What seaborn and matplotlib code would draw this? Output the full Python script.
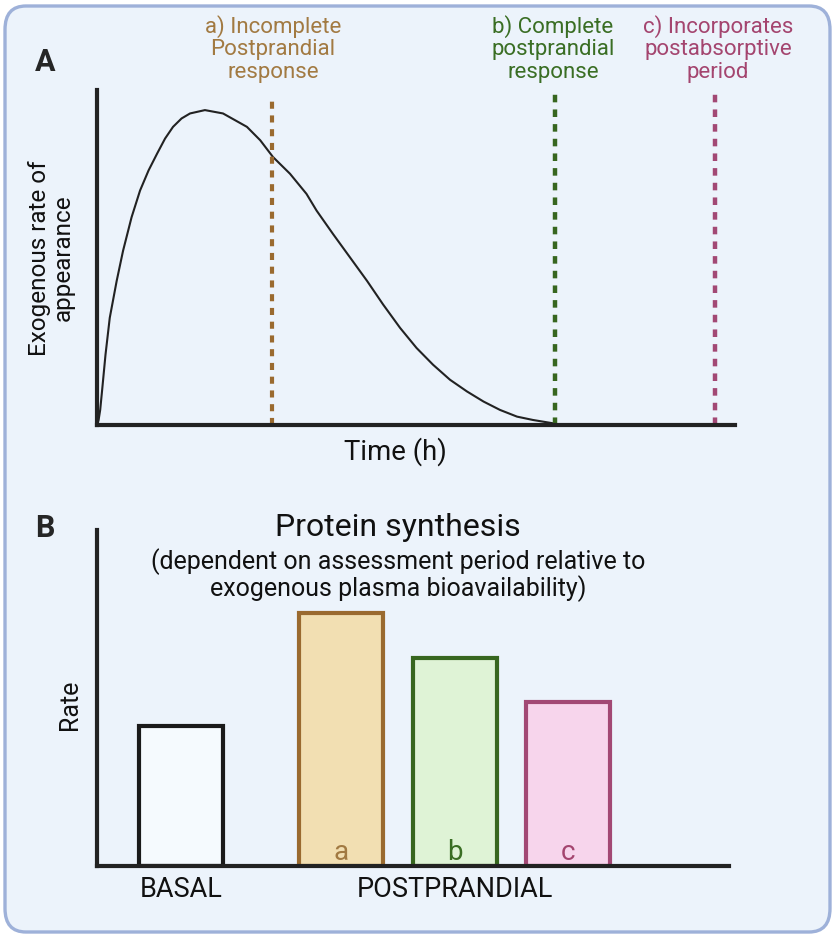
import numpy as np
import pandas as pd
import matplotlib.pyplot as plt
import seaborn as sns
from matplotlib.patches import FancyBboxPatch

# panel A: curve (time in arbitrary units, rate 0..1)
time_h = [0.0, 0.03, 0.06, 0.10, 0.16, 0.24, 0.37, 0.49, 0.65, 0.81, 0.97, 1.13, 1.28,
          1.43, 1.59, 1.75, 2.03, 2.37, 2.82, 3.07, 3.31, 3.63, 3.94, 4.13, 4.44,
          4.76, 5.08, 5.38, 5.70, 6.01, 6.32, 6.64, 6.96, 7.27, 7.58, 7.90, 8.20, 8.58]
ra_exo = [0.0, 0.015, 0.045, 0.11, 0.21, 0.32, 0.43, 0.52, 0.62, 0.70, 0.76, 0.81, 0.855,
          0.89, 0.915, 0.93, 0.94, 0.93, 0.89, 0.85, 0.80, 0.75, 0.69, 0.64, 0.57,
          0.50, 0.43, 0.36, 0.29, 0.23, 0.18, 0.135, 0.10, 0.07, 0.045, 0.025, 0.015, 0.005]

period_x = [3.29, 8.61, 11.62]
period_top = [0.973, 0.997, 0.997]
period_labels = ['a) Incomplete\nPostprandial\nresponse',
                 'b) Complete\npostprandial\nresponse',
                 'c) Incorporates\npostabsorptive\nperiod']

# panel B: bars
bar_names = ['BASAL', 'a', 'b', 'c']
bar_pos = [0.74, 2.15, 3.15, 4.15]
bar_rate = [1.40, 2.53, 2.08, 1.64]
group_ticks = [0.74, 3.15]
group_labels = ['BASAL', 'POSTPRANDIAL']

# colours
brown, green, pink = '#9A6A2F', '#37661F', '#A24874'
text_brown, text_green, text_pink = '#A27A42', '#3A6E24', '#A4456F'
fills = ['#F5FAFE', '#F2DFB2', '#DFF3D6', '#F7D5EC']
edges = ['#1A1A1A', brown, green, pink]
ink = '#222222'

sns.set_theme(style='white')
plt.rcParams['font.family'] = ['Roboto', 'DejaVu Sans']

W, H = 835, 942
fig = plt.figure(figsize=(W / 100, H / 100), dpi=100)
fig.patch.set_facecolor('white')

def fx(px):
    return px / W

def fy(py):
    return 1 - py / H

# rounded panel background
bg = FancyBboxPatch((fx(5), fy(932)), fx(825), 926 / H,
                    boxstyle='round,pad=0,rounding_size=0.025',
                    transform=fig.transFigure, facecolor='#ECF3FB',
                    edgecolor='#9EB1D9', linewidth=2.4, zorder=-1)
fig.patches.append(bg)

# ---------- panel A ----------
axA = fig.add_axes([fx(97), fy(425), fx(735 - 97), 335 / H])
axA.set_facecolor('none')
curve = pd.DataFrame({'time': time_h, 'ra': ra_exo})
sns.lineplot(data=curve, x='time', y='ra', sort=False, estimator=None,
             color=ink, linewidth=1.5, ax=axA)
axA.lines[0].set_solid_joinstyle('round')
for x, top, c, lw in zip(period_x, period_top, [brown, green, pink], [3.0, 3.2, 3.2]):
    axA.vlines(x, 0, top, colors=c, linewidth=lw, linestyles=(0, (1.7, 1.6)),
               zorder=3)
axA.set_xlim(0, 12)
axA.set_ylim(0, 1)
axA.set_xticks([])
axA.set_yticks([])
axA.set_xlabel('')
axA.set_ylabel('')
for s in ['top', 'right']:
    axA.spines[s].set_visible(False)
for s in ['left', 'bottom']:
    axA.spines[s].set_linewidth(3.0)
    axA.spines[s].set_color(ink)
    axA.spines[s].set_zorder(4)

fig.text(fx(45), fy(62), 'A', fontsize=22, fontweight='bold', ha='center', va='center')
for lab, cx, c in zip(period_labels, [273, 553, 718], [text_brown, text_green, text_pink]):
    fig.text(fx(cx), fy(49), lab, fontsize=16, color=c, ha='center', va='center',
             multialignment='center', linespacing=1.12)
fig.text(fx(51), fy(258), 'Exogenous rate of\nappearance', fontsize=17.5, rotation=90,
         ha='center', va='center', multialignment='center', linespacing=1.05, color='#111111')
fig.text(fx(395), fy(452), 'Time (h)', fontsize=19.8, ha='center', va='center', color='#111111')

# ---------- panel B ----------
axB = fig.add_axes([fx(97), fy(866), fx(729 - 97), 336 / H])
axB.set_facecolor('none')
bars = pd.DataFrame({'pos': bar_pos, 'rate': bar_rate, 'name': bar_names})
sns.barplot(data=bars, x='pos', y='rate', hue='name', hue_order=bar_names,
            palette=fills, saturation=1, native_scale=True, width=0.74, legend=False,
            errorbar=None, ax=axB)
for p, ec in zip(axB.patches, edges):
    p.set_edgecolor(ec)
    p.set_linewidth(3.0)
axB.set_xlim(0, 632 / 113.5)
axB.set_ylim(0, 3.36)
axB.set_yticks([])
axB.set_xticks(group_ticks)
axB.set_xticklabels(group_labels, fontsize=19.5, color='#111111')
axB.tick_params(axis='x', length=0, pad=7)
axB.set_xlabel('')
axB.set_ylabel('')
for s in ['top', 'right']:
    axB.spines[s].set_visible(False)
for s in ['left', 'bottom']:
    axB.spines[s].set_linewidth(3.0)
    axB.spines[s].set_color(ink)
    axB.spines[s].set_zorder(4)

for name, x, c in zip(bar_names[1:], bar_pos[1:], [text_brown, text_green, text_pink]):
    axB.text(x, 0.06, name, fontsize=20, color=c, ha='center', va='baseline')

fig.text(fx(45), fy(528), 'B', fontsize=22, fontweight='bold', ha='center', va='center')
fig.text(fx(70), fy(705), 'Rate', fontsize=18, rotation=90, ha='center', va='center',
         color='#111111')
fig.text(fx(398), fy(527), 'Protein synthesis', fontsize=23, ha='center', va='center',
         color='#111111')
fig.text(fx(398), fy(575), '(dependent on assessment period relative to\n'
         'exogenous plasma bioavailability)', fontsize=18, ha='center', va='center',
         multialignment='center', linespacing=1.0, color='#111111')

fig.savefig('out.png', dpi=100, facecolor=fig.get_facecolor())
